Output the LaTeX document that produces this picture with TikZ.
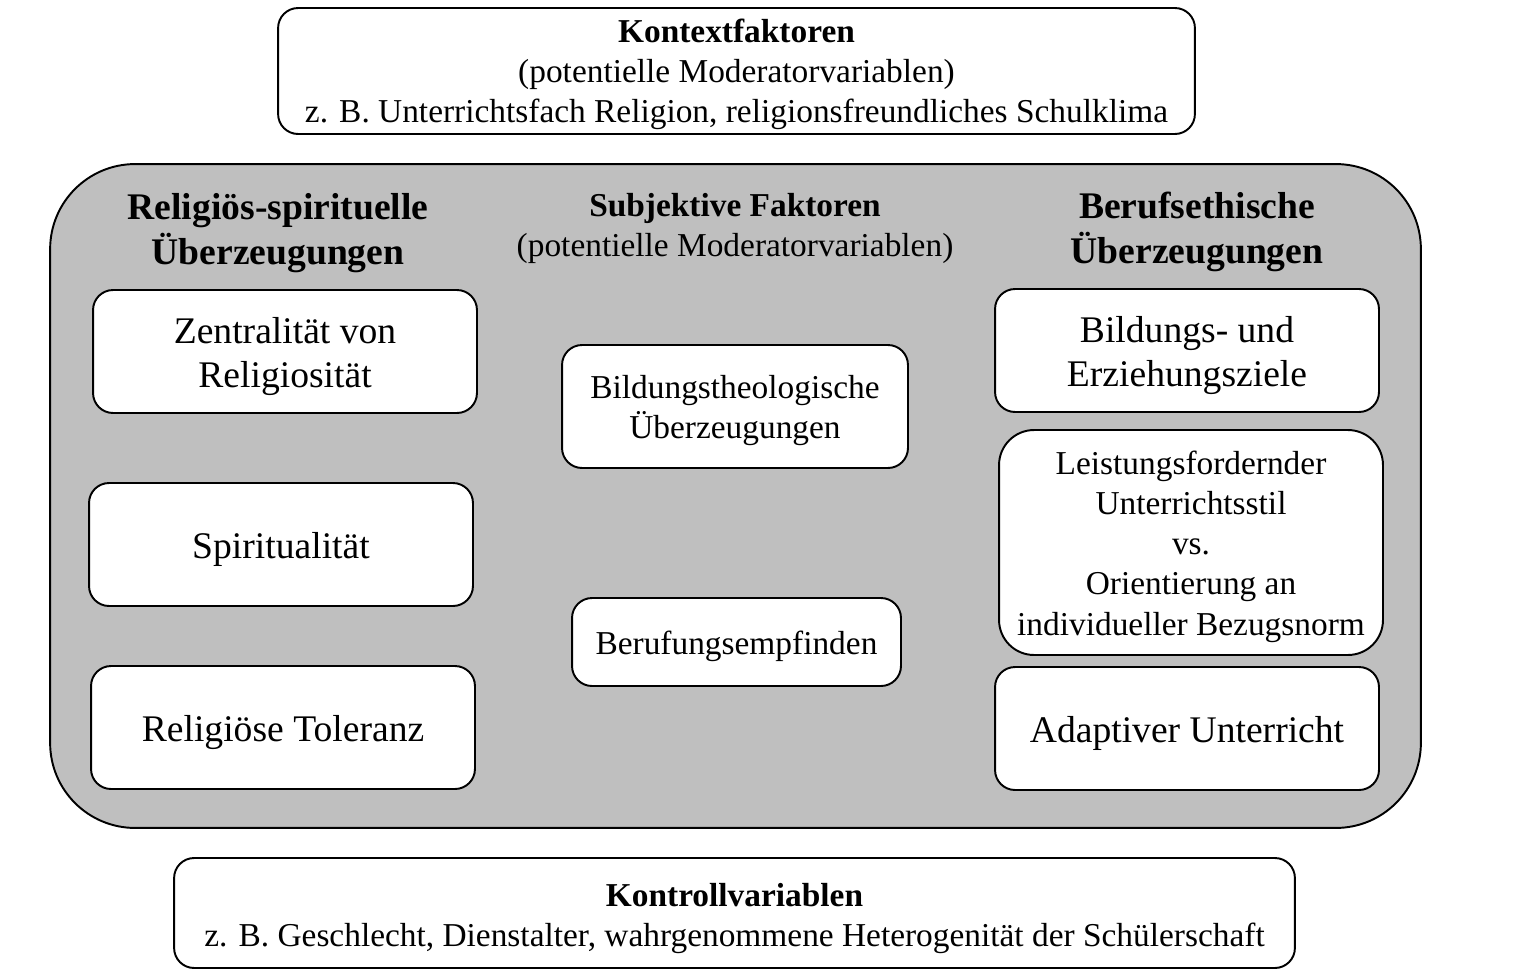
\documentclass[tikz,border=0pt]{standalone}
\usepackage{fontspec}
\setmainfont{Liberation Serif}
\usetikzlibrary{positioning}

\newcommand{\bigtxt}{\fontsize{21.4}{25.6}\selectfont}
\newcommand{\midtxt}{\fontsize{19}{22.8}\selectfont}
\newcommand{\lift}[1][0.96em]{\rule{0pt}{#1}}

\begin{document}
\begin{tikzpicture}[
  x=0.02cm, y=-0.02cm,
  item/.style={rectangle, rounded corners=0.4cm, draw=black, line width=1.1pt,
               fill=white, align=center, inner sep=0pt,
               minimum width=7.68cm, minimum height=2.46cm, font=\bigtxt},
  infobox/.style={rectangle, rounded corners=0.4cm, draw=black, line width=1.1pt,
                  fill=white, align=center, inner sep=0pt, font=\midtxt},
  frame/.style={rectangle, rounded corners=1.7cm, draw=black, line width=1.1pt,
                fill=black!25, inner sep=0pt},
  heading/.style={align=center, inner sep=0pt, font=\bigtxt\bfseries}
]
\useasboundingbox (0,0) rectangle (1537,974);

% Kontext oben
\node[infobox, minimum width=18.34cm, minimum height=2.52cm] (kontext) at (736.5,71)
  {\lift[0.93em]\textbf{Kontextfaktoren}\\ (potentielle Moderatorvariablen)\\
   z. B. Unterrichtsfach Religion, religionsfreundliches Schulklima};

% grauer Rahmen
\node[frame, minimum width=27.42cm, minimum height=13.28cm] (rahmen) at (735.5,496) {};

% Ueberschriften
\node[heading] (hleft) at (278,233) {Religiös-spirituelle\\ Überzeugungen};
\node[align=center, inner sep=0pt, font=\midtxt] (hmid) at (735,228)
  {\textbf{Subjektive Faktoren}\\ (potentielle Moderatorvariablen)};
\node[heading] (hright) at (1197,232) {Berufsethische\\ Überzeugungen};

% linke Spalte
\node[item] (zentral) at (285,351.5) {\lift Zentralität von\\ Religiosität};
\node[item] (spirit) at (281,544.5) {\lift Spiritualität};
\node[item] (toleranz) at (283,727.5) {\lift Religiöse Toleranz};

% mittlere Spalte
\node[infobox, minimum width=6.92cm, minimum height=2.46cm] (bildtheo) at (735,406.5)
  {\lift Bildungstheologische\\ Überzeugungen};
\node[infobox, minimum width=6.58cm, minimum height=1.76cm] (berufung) at (736.5,642)
  {\lift Berufungsempfinden};

% rechte Spalte
\node[item] (ziele) at (1187,350.5) {\lift Bildungs- und\\ Erziehungsziele};
\node[infobox, rounded corners=0.7cm, minimum width=7.68cm, minimum height=4.5cm] (stil) at (1191,542.5)
  {\lift Leistungsfordernder\\ Unterrichtsstil\\ vs.\\ Orientierung an\\ individueller Bezugsnorm};
\node[item] (adaptiv) at (1187,728.5) {\lift Adaptiver Unterricht};

% Kontrolle unten
\node[infobox, minimum width=22.42cm, minimum height=2.2cm] (kontrolle) at (734.5,913)
  {\lift[1.04em]\textbf{Kontrollvariablen}\\
   z. B. Geschlecht, Dienstalter, wahrgenommene Heterogenität der Schülerschaft};

\end{tikzpicture}
\end{document}
